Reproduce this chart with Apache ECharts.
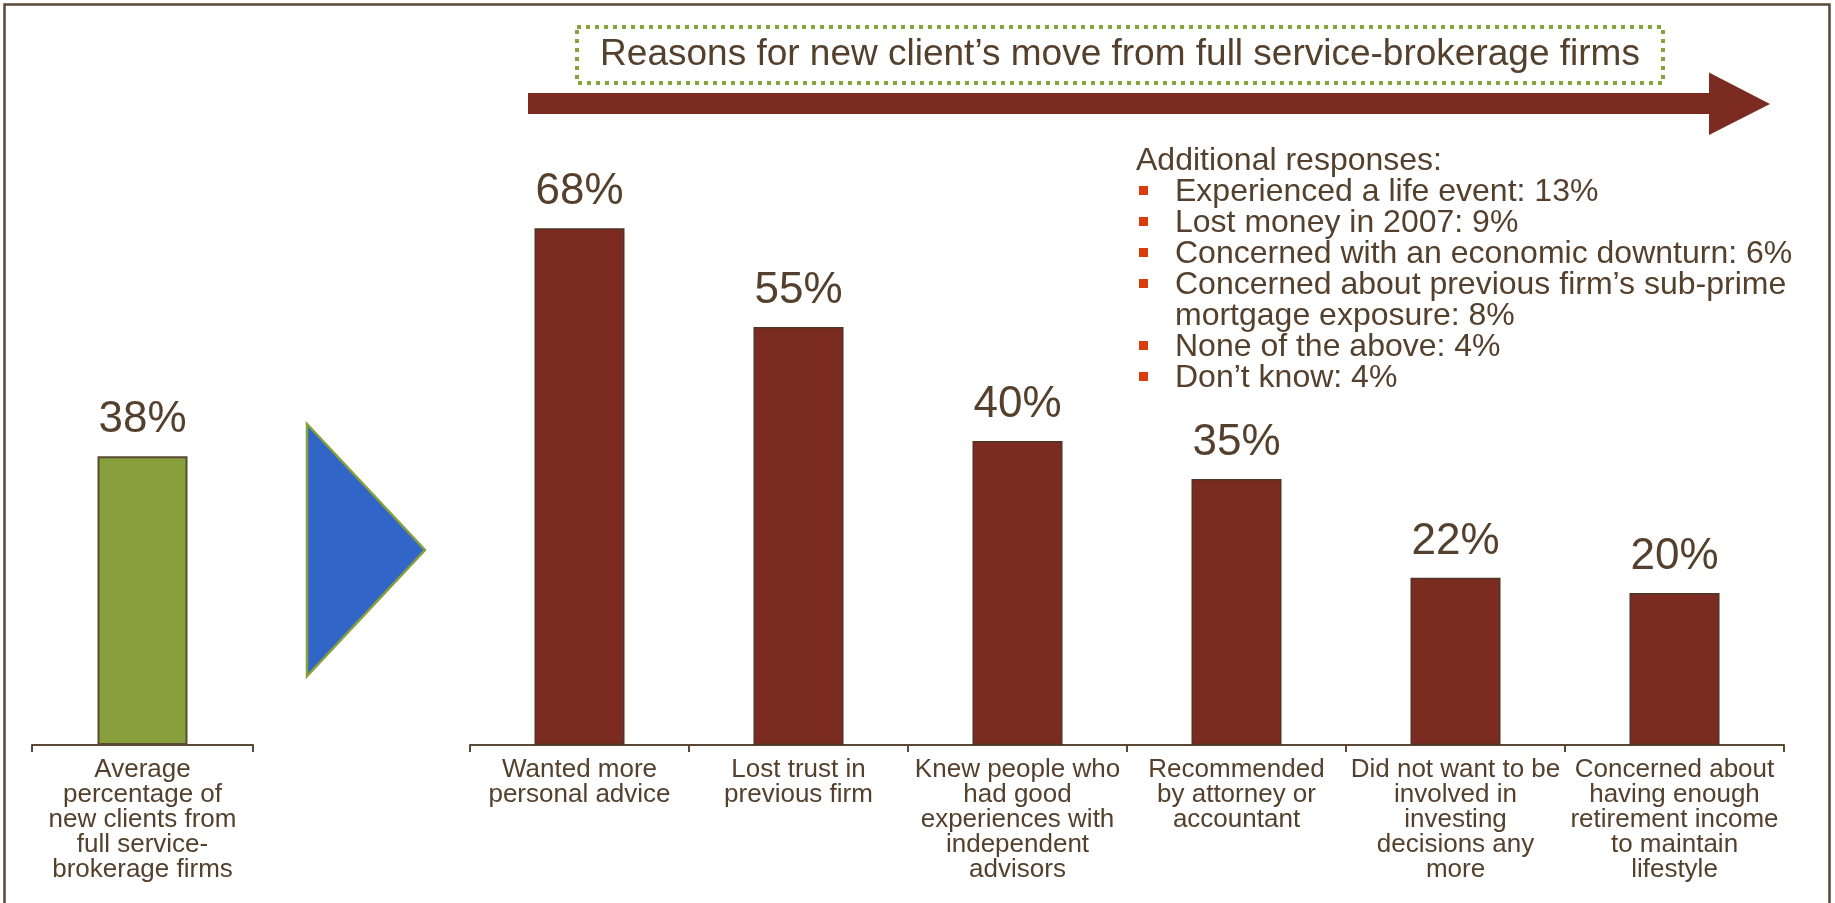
<!DOCTYPE html>
<html>
<head>
<meta charset="utf-8">
<title>Reasons for new client's move from full service-brokerage firms</title>
<script src="https://cdn.jsdelivr.net/npm/echarts@6/dist/echarts.min.js"></script>
<style>
  html, body { margin: 0; padding: 0; background: #ffffff; }
  #chart { width: 1835px; height: 903px; }
</style>
</head>
<body>
<div id="chart"></div>
<script>
// Share of new clients coming from full service-brokerage firms
const averageCategories = ["Average\npercentage of\nnew clients from\nfull service-\nbrokerage firms"];
const averageValues = [38];

// Reasons given for the move
const reasonCategories = [
  "Wanted more\npersonal advice",
  "Lost trust in\nprevious firm",
  "Knew people who\nhad good\nexperiences with\nindependent\nadvisors",
  "Recommended\nby attorney or\naccountant",
  "Did not want to be\ninvolved in\ninvesting\ndecisions any\nmore",
  "Concerned about\nhaving enough\nretirement income\nto maintain\nlifestyle"
];
const reasonValues = [68, 55, 40, 35, 22, 20];

// Side list of other answers (a continuation line has bullet: false)
const additionalHeader = "Additional responses:";
const additionalLines = [
  { text: "Experienced a life event: 13%", bullet: true },
  { text: "Lost money in 2007: 9%", bullet: true },
  { text: "Concerned with an economic downturn: 6%", bullet: true },
  { text: "Concerned about previous firm\u2019s sub-prime", bullet: true },
  { text: "mortgage exposure: 8%", bullet: false },
  { text: "None of the above: 4%", bullet: true },
  { text: "Don\u2019t know: 4%", bullet: true }
];

const headline = "Reasons for new client\u2019s move from full service-brokerage firms";

const FONT = '"Liberation Sans", Arial, sans-serif';
const TEXT = '#54402c';
const AXIS = '#5a4836';
const RED = '#7b2b20';
const GREEN = '#87a03c';

const chart = echarts.init(document.getElementById('chart'), null, { renderer: 'canvas' });

const axisCommon = {
  type: 'category',
  axisLine: { show: true, lineStyle: { color: AXIS, width: 2 } },
  axisTick: { show: true, length: 7, lineStyle: { color: AXIS, width: 2 } },
  axisLabel: {
    interval: 0, margin: 12, color: TEXT,
    fontFamily: FONT, fontSize: 26, lineHeight: 25, align: 'center'
  }
};
const yCommon = { type: 'value', min: 0, max: 80, show: false, splitLine: { show: false } };
const labelCommon = {
  show: true, position: 'top', distance: 14, formatter: '{c}%',
  color: TEXT, fontFamily: FONT, fontSize: 44
};

// side list graphics
const listGraphics = [];
const listX = 1136, listTextX = 1175, listY0 = 161, listStep = 31;
listGraphics.push({
  type: 'text', silent: true,
  style: { text: additionalHeader, x: listX, y: listY0, fill: TEXT, font: '32px ' + FONT,
           align: 'left', verticalAlign: 'middle', textAlign: 'left', textVerticalAlign: 'middle' }
});
additionalLines.forEach(function (line, i) {
  const y = listY0 + listStep * (i + 1);
  if (line.bullet) {
    listGraphics.push({
      type: 'rect', silent: true,
      shape: { x: 1139, y: y - 6, width: 9, height: 9 },
      style: { fill: '#d83c0a' }
    });
  }
  listGraphics.push({
    type: 'text', silent: true,
    style: { text: line.text, x: listTextX, y: y, fill: TEXT, font: '32px ' + FONT,
             align: 'left', verticalAlign: 'middle', textAlign: 'left', textVerticalAlign: 'middle' }
  });
});

chart.setOption({
  animation: false,
  backgroundColor: '#ffffff',
  grid: [
    { left: 32, width: 221, top: 137, bottom: 158 },
    { left: 470, width: 1314, top: 137, bottom: 158 }
  ],
  xAxis: [
    Object.assign({ gridIndex: 0, data: averageCategories }, axisCommon),
    Object.assign({ gridIndex: 1, data: reasonCategories }, axisCommon)
  ],
  yAxis: [
    Object.assign({ gridIndex: 0 }, yCommon),
    Object.assign({ gridIndex: 1 }, yCommon)
  ],
  series: [
    {
      type: 'bar', xAxisIndex: 0, yAxisIndex: 0, data: averageValues, barWidth: 90,
      itemStyle: { color: GREEN, borderColor: '#5b4a33', borderWidth: 2 },
      label: labelCommon
    },
    {
      type: 'bar', xAxisIndex: 1, yAxisIndex: 1, data: reasonValues, barWidth: 90,
      itemStyle: { color: RED, borderColor: '#4f3527', borderWidth: 1.5 },
      label: labelCommon
    }
  ],
  graphic: [
    // outer frame
    {
      type: 'rect', silent: true, z: -1,
      shape: { x: 4.5, y: 4.5, width: 1825, height: 940 },
      style: { fill: 'none', stroke: AXIS, lineWidth: 2.5 }
    },
    // headline box
    {
      type: 'rect', silent: true,
      shape: { x: 577, y: 27, width: 1086, height: 56 },
      style: { fill: '#ffffff', stroke: '#86a33c', lineWidth: 4, lineDash: [4, 5] }
    },
    {
      type: 'text', silent: true,
      style: { text: headline, x: 1120, y: 55, fill: TEXT, font: '37px ' + FONT,
               align: 'center', verticalAlign: 'middle', textAlign: 'center', textVerticalAlign: 'middle' }
    },
    // direction arrow
    {
      type: 'polygon', silent: true,
      shape: { points: [[528, 93], [1709, 93], [1709, 72.5], [1770, 104], [1709, 135], [1709, 114], [528, 114]] },
      style: { fill: RED }
    },
    // blue pointer between the two panels
    {
      type: 'polygon', silent: true,
      shape: { points: [[307, 424], [425, 550], [307, 676]] },
      style: { fill: '#3165c8', stroke: '#86a03a', lineWidth: 2.5, lineJoin: 'miter' }
    }
  ].concat(listGraphics)
});
</script>
</body>
</html>
